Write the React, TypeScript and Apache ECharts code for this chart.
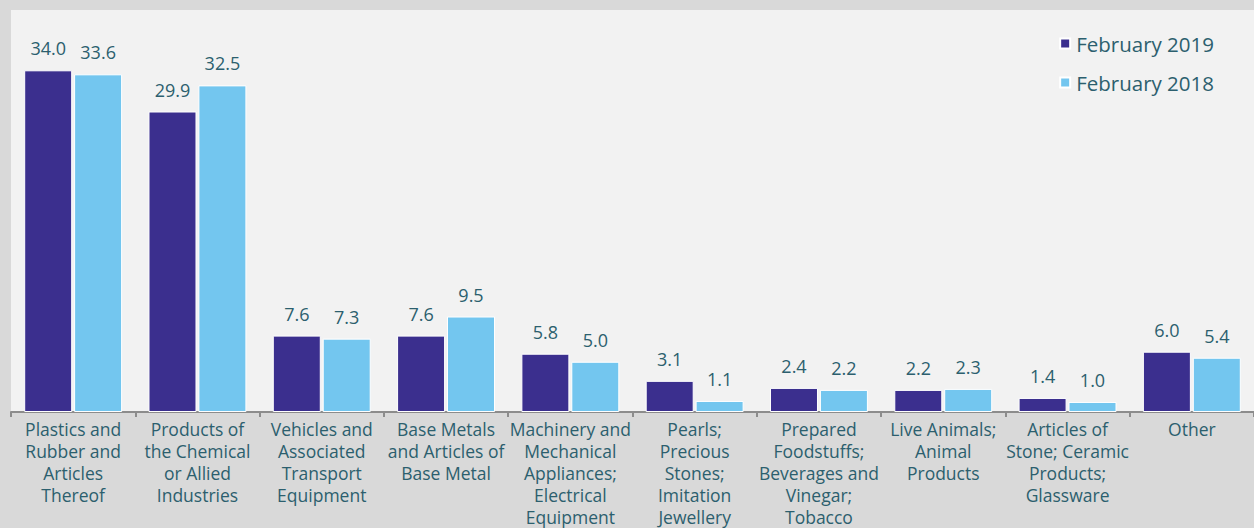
import React, { useEffect, useRef } from "react";
import * as echarts from "echarts";

const categories = [
  "Plastics and\nRubber and\nArticles\nThereof",
  "Products of\nthe Chemical\nor Allied\nIndustries",
  "Vehicles and\nAssociated\nTransport\nEquipment",
  "Base Metals\nand Articles of\nBase Metal",
  "Machinery and\nMechanical\nAppliances;\nElectrical\nEquipment",
  "Pearls;\nPrecious\nStones;\nImitation\nJewellery",
  "Prepared\nFoodstuffs;\nBeverages and\nVinegar;\nTobacco",
  "Live Animals;\nAnimal\nProducts",
  "Articles of\nStone; Ceramic\nProducts;\nGlassware",
  "Other",
];
const feb2019 = [34.0, 29.9, 7.6, 7.6, 5.8, 3.1, 2.4, 2.2, 1.4, 6.0];
const feb2018 = [33.6, 32.5, 7.3, 9.5, 5.0, 1.1, 2.2, 2.3, 1.0, 5.4];
const seriesNames = ["February 2019", "February 2018"];

const FONT = "'Open Sans', sans-serif";
const TEXT = "#2c5f6e";

export default function App() {
  const ref = useRef<HTMLDivElement>(null);
  useEffect(() => {
    if (!ref.current) return;
    const chart = echarts.init(ref.current, null, { renderer: "svg" });
    const label = {
      show: true,
      position: "top",
      distance: 13,
      color: TEXT,
      fontSize: 18,
      fontFamily: FONT,
      formatter: (p: any) => Number(p.value).toFixed(1),
    };
    chart.setOption({
      animation: false,
      backgroundColor: "#d9d9d9",
      textStyle: { fontFamily: FONT },
      grid: {
        show: true,
        backgroundColor: "#f2f2f2",
        borderWidth: 0,
        left: 11,
        right: 0,
        top: 10,
        bottom: 116,
        containLabel: false,
      },
      legend: {
        orient: "vertical",
        right: 35,
        top: 28,
        itemWidth: 10,
        itemHeight: 10,
        itemGap: 18,
        icon: "rect",
        textStyle: { color: TEXT, fontSize: 20.5, fontFamily: FONT, padding: [0, 0, 0, 1] },
        data: seriesNames,
      },
      xAxis: {
        type: "category",
        data: categories,
        axisLine: { lineStyle: { color: "#8c8c8c", width: 2 } },
        axisTick: { show: true, length: 5, lineStyle: { color: "#8c8c8c", width: 2 } },
        axisLabel: {
          interval: 0,
          margin: 6,
          color: TEXT,
          fontSize: 17.5,
          lineHeight: 22,
          fontFamily: FONT,
          align: "center",
        },
      },
      yAxis: {
        type: "value",
        min: 0,
        max: 40,
        show: false,
        splitLine: { show: false },
      },
      series: [
        {
          name: seriesNames[0],
          type: "bar",
          data: feb2019,
          barWidth: 48,
          barGap: "4%",
          itemStyle: { color: "#3b2f8e", borderColor: "#ffffff", borderWidth: 1 },
          label,
        },
        {
          name: seriesNames[1],
          type: "bar",
          data: feb2018,
          barWidth: 48,
          itemStyle: { color: "#73c6ef", borderColor: "#ffffff", borderWidth: 1 },
          label,
        },
      ],
    });
    return () => chart.dispose();
  }, []);
  return (
    <div
      ref={ref}
      style={{ position: "fixed", left: 0, top: 0, width: 1254, height: 528 }}
    />
  );
}
